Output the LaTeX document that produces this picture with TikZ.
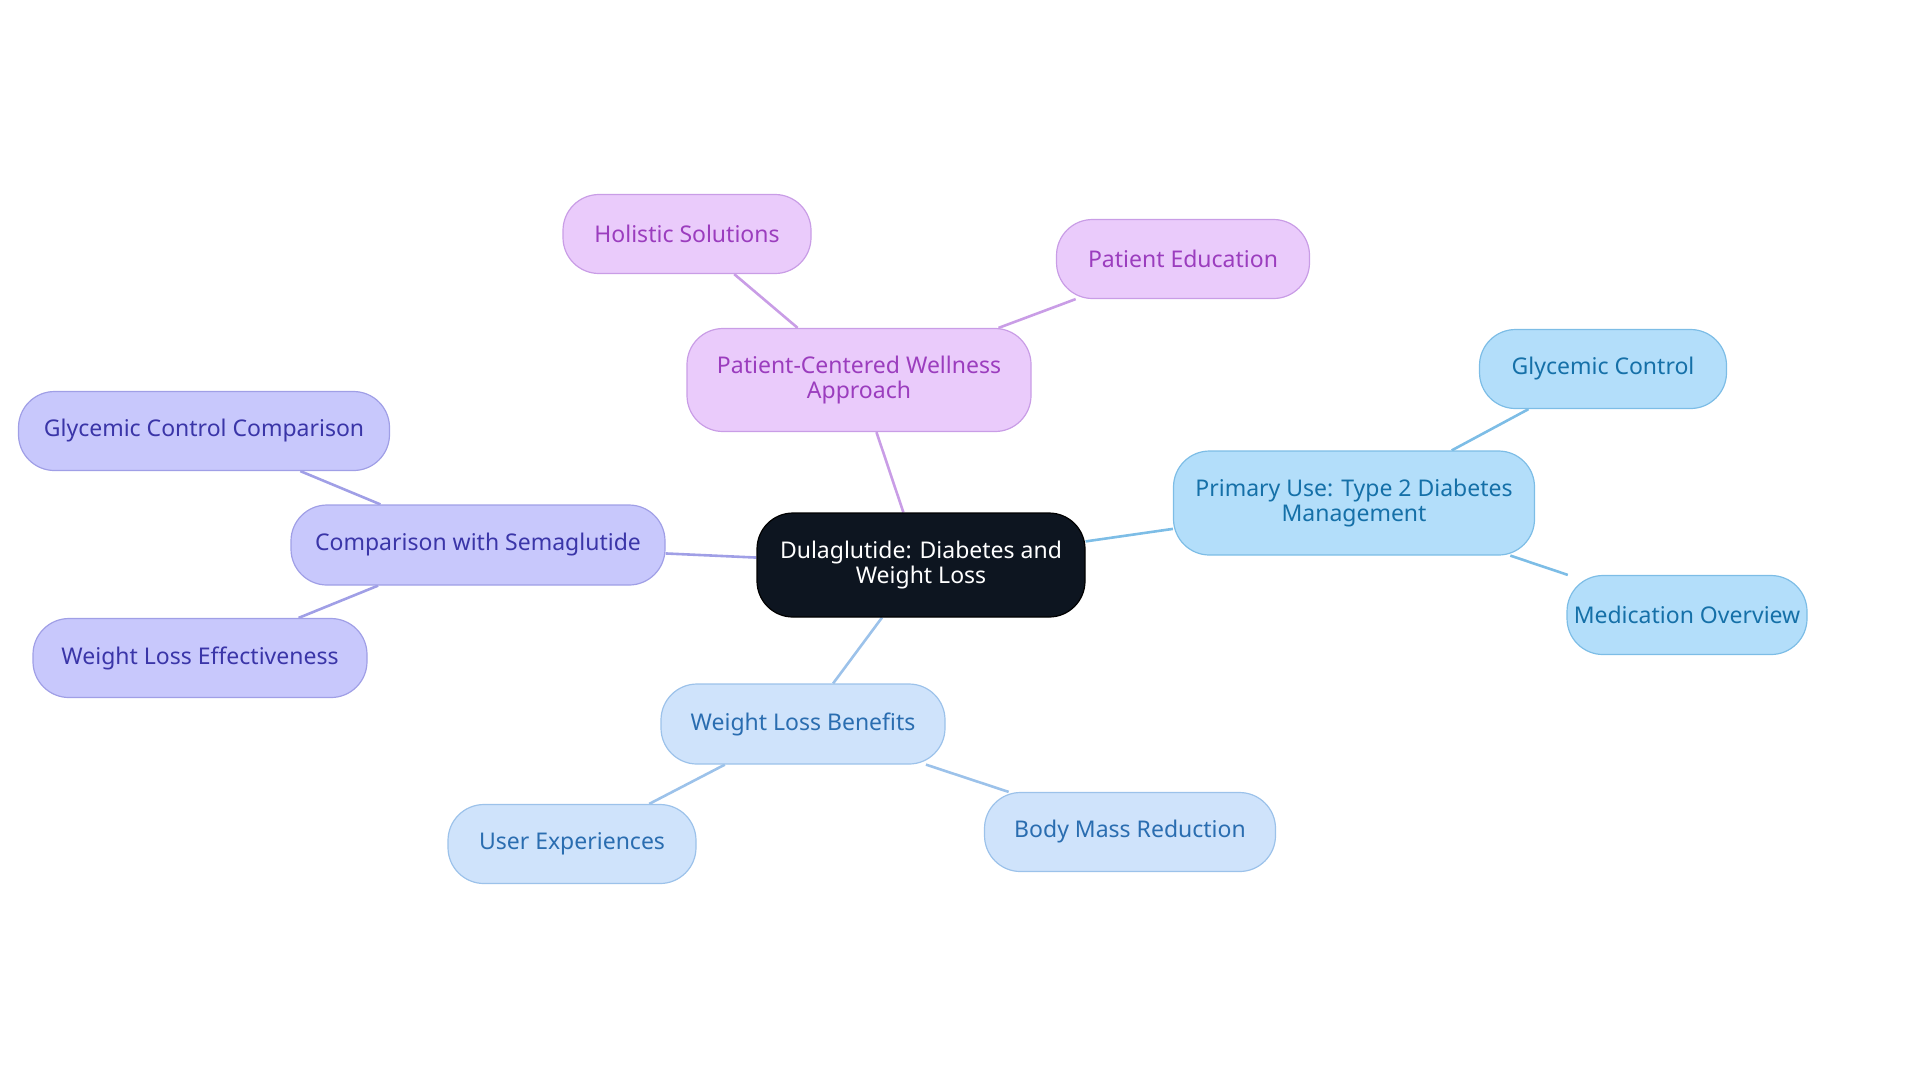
\documentclass[tikz,border=0pt]{standalone}
\usepackage{fontspec}
\setmainfont{Noto Sans}
\usetikzlibrary{backgrounds}
\begin{document}
\begin{tikzpicture}[x=0.5pt,y=-0.5pt,
 box/.style={rounded corners=18pt,draw,line width=0.6pt,align=center,font=\fontsize{11.5}{12.5}\selectfont,inner sep=0pt},
 pur/.style={box,fill=purFill,draw=purLine,text=purText},
 blu/.style={box,fill=bluFill,draw=bluLine,text=bluText},
 lbl/.style={box,fill=lblFill,draw=lblLine,text=lblText},
 ind/.style={box,fill=indFill,draw=indLine,text=indText},
 ed/.style={line width=1.3pt}]
\definecolor{purFill}{HTML}{EACBFB}\definecolor{purLine}{HTML}{C99DE6}\definecolor{purText}{HTML}{9B3DBE}
\definecolor{bluFill}{HTML}{B3DEFA}\definecolor{bluLine}{HTML}{7DBDE6}\definecolor{bluText}{HTML}{1570A8}
\definecolor{lblFill}{HTML}{CFE3FB}\definecolor{lblLine}{HTML}{9CC2EA}\definecolor{lblText}{HTML}{2A6DB0}
\definecolor{indFill}{HTML}{C8C8FC}\definecolor{indLine}{HTML}{A09FE6}\definecolor{indText}{HTML}{3A35A8}
\definecolor{ctrFill}{HTML}{0D1520}
\useasboundingbox (0,0) rectangle (1920,1083);
\node[box,fill=ctrFill,draw=black,text=white,minimum width=164pt,minimum height=52pt] (c) at (921,565) {Dulaglutide: Diabetes and\\Weight Loss};
\node[pur,minimum width=172pt,minimum height=51.5pt] (p) at (859,380) {Patient-Centered Wellness\\Approach};
\node[pur,minimum width=124pt,minimum height=39.5pt] (p1) at (687,234) {Holistic Solutions};
\node[pur,minimum width=126.5pt,minimum height=39.5pt] (p2) at (1183,259) {Patient Education};
\node[blu,minimum width=180.5pt,minimum height=52pt] (b) at (1354,503) {Primary Use: Type 2 Diabetes\\Management};
\node[blu,minimum width=123.5pt,minimum height=39.5pt] (b1) at (1603,369) {Glycemic Control};
\node[blu,minimum width=120pt,minimum height=39.5pt] (b2) at (1687,615) {Medication Overview};
\node[ind,minimum width=187pt,minimum height=40pt] (i) at (478,545) {Comparison with Semaglutide};
\node[ind,minimum width=185.5pt,minimum height=39.5pt] (i1) at (204,431) {Glycemic Control Comparison};
\node[ind,minimum width=167pt,minimum height=39.5pt] (i2) at (200,658) {Weight Loss Effectiveness};
\node[lbl,minimum width=142pt,minimum height=40pt] (l) at (803,724) {Weight Loss Benefits};
\node[lbl,minimum width=124pt,minimum height=39.5pt] (l1) at (572,844) {User Experiences};
\node[lbl,minimum width=145.5pt,minimum height=39.5pt] (l2) at (1130,832) {Body Mass Reduction};
\begin{scope}[on background layer]
\draw[ed,purLine] (c) -- (p); \draw[ed,purLine] (p) -- (p1); \draw[ed,purLine] (p) -- (p2);
\draw[ed,bluLine] (c) -- (b); \draw[ed,bluLine] (b) -- (b1); \draw[ed,bluLine] (b) -- (b2);
\draw[ed,indLine] (c) -- (i); \draw[ed,indLine] (i) -- (i1); \draw[ed,indLine] (i) -- (i2);
\draw[ed,lblLine] (c) -- (l); \draw[ed,lblLine] (l) -- (l1); \draw[ed,lblLine] (l) -- (l2);
\end{scope}
\end{tikzpicture}
\end{document}
